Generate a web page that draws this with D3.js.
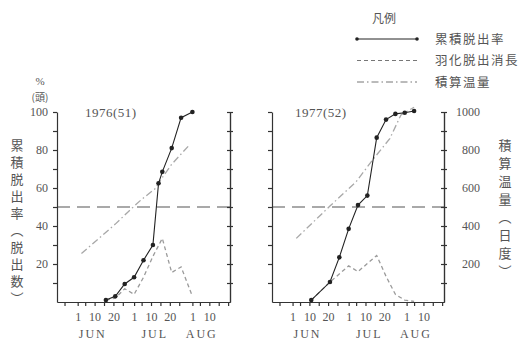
<!DOCTYPE html>
<html>
<head>
<meta charset="utf-8">
<script src="https://cdn.jsdelivr.net/npm/d3@7"></script>
<style>
  body { margin: 0; background: #fff; }
  svg text { fill: #555; }
  .num { font-family: "Liberation Serif", "DejaVu Serif", serif; font-size: 12px; }
  .jp { font-family: "Noto Sans CJK JP", sans-serif; font-size: 12.5px; }
  .axis path, .axis line { stroke: #333; stroke-width: 1.2; }
  .axis text { fill: #555; font-family: "Liberation Serif", "DejaVu Serif", serif; font-size: 12px; }
</style>
</head>
<body>
<div id="chart"></div>
<script>
// 1976 (昭和51年)
var cumDates1976 = ["06-16","06-21","06-26","07-01","07-06","07-11","07-14","07-16","07-21","07-26","08-01"];
var cumRate1976  = [1, 3, 9.5, 13, 22, 30, 62.5, 68.5, 81, 97, 100];
var emDates1976  = ["06-16","06-21","06-26","07-01","07-06","07-11","07-16","07-21","07-26","08-01"];
var emerge1976   = [1, 2, 7, 4, 13, 24, 33.5, 15.5, 18.5, 3];
var tempDates1976 = ["06-03","06-21","06-30","07-05","07-12","07-16","07-21","07-30"];
var tempSum1976   = [255, 410, 495, 540, 595, 655, 725, 822];

// 1977 (昭和52年)
var cumDates1977 = ["06-11","06-21","06-26","07-01","07-06","07-11","07-16","07-21","07-26","07-31","08-05"];
var cumRate1977  = [1, 10.5, 23.5, 38.5, 51, 56, 86.5, 96, 99, 99.6, 100.5];
var emDates1977  = ["06-11","06-21","07-01","07-06","07-16","07-21","07-26","07-31","08-05"];
var emerge1977   = [1, 10.5, 19, 16, 24.5, 13.5, 4, 1, 0.3];
var tempDates1977 = ["06-03","06-21","07-05","07-14","07-23","07-29","08-05"];
var tempSum1977   = [335, 505, 633, 750, 860, 985, 1025];

// axis labels
var dayTicks = ["05-25","06-01","06-05","06-10","06-15","06-20","06-25","07-01","07-05","07-10",
                "07-15","07-20","07-25","08-01","08-05","08-10","08-15","08-20"];
var dayLabels = ["06-01","06-10","06-20","07-01","07-10","07-20","08-01","08-10"];
var monthNames = ["JUN","JUL","AUG"];
var monthAt = ["06-09","07-12","08-06"];
var rateTicks = [10,20,30,40,50,60,70,80,90,100];
var tempTicks = [100,200,300,400,500,600,700,800,900,1000];
var legendNames = ["累積脱出率","羽化脱出消長","積算温量"];
var leftTitle = "累積脱出率（脱出数）";
var rightTitle = "積算温量（日度）";

var parseDay = d3.timeParse("%Y-%m-%d");
function day(s) { return parseDay("2000-" + s); }

var W = 521, H = 342;
var plotTop = 112, plotBottom = 302;

var svg = d3.select("#chart").append("svg")
  .attr("width", W).attr("height", H);

var yRate = d3.scaleLinear().domain([0, 100]).range([plotBottom, plotTop]);
var yTemp = d3.scaleLinear().domain([0, 1000]).range([plotBottom, plotTop]);

var panels = [
  { title: "1976(51)", left: 57, right: 230, titleX: 85,
    cd: cumDates1976, cv: cumRate1976, ed: emDates1976, ev: emerge1976, td: tempDates1976, tv: tempSum1976 },
  { title: "1977(52)", left: 272, right: 444, titleX: 295,
    cd: cumDates1977, cv: cumRate1977, ed: emDates1977, ev: emerge1977, td: tempDates1977, tv: tempSum1977 }
];

var styles = {
  cum:  { stroke: "#222", dash: null, width: 1.1 },
  em:   { stroke: "#9a9a9a", dash: "4,3", width: 1.3 },
  temp: { stroke: "#a8a8a8", dash: "7,3,1.5,3", width: 1.3 }
};

panels.forEach(function(p, pi) {
  var x = d3.scaleTime().domain([day("05-21"), day("08-21")]).range([p.left, p.right]);

  // 50% line
  svg.append("line")
    .attr("x1", p.left).attr("x2", p.right)
    .attr("y1", yRate(50)).attr("y2", yRate(50))
    .attr("stroke", "#555").attr("stroke-width", 1.1)
    .attr("stroke-dasharray", "13,7");

  // x axis
  svg.append("g").attr("class", "axis")
    .attr("transform", "translate(0," + plotBottom + ")")
    .call(d3.axisBottom(x)
      .tickValues(dayTicks.map(day))
      .tickSize(4).tickSizeOuter(0)
      .tickPadding(6)
      .tickFormat(function(d) {
        var s = d3.timeFormat("%m-%d")(d);
        return dayLabels.indexOf(s) >= 0 ? String(d.getDate()) : "";
      }));

  svg.selectAll(null).data(monthNames).enter().append("text")
    .attr("class", "num")
    .attr("x", function(d, i) { return x(day(monthAt[i])); })
    .attr("y", 338)
    .attr("text-anchor", "middle")
    .style("letter-spacing", "2px")
    .text(function(d) { return d; });

  // left axis
  svg.append("g").attr("class", "axis")
    .attr("transform", "translate(" + p.left + ",0)")
    .call(d3.axisLeft(yRate).tickValues(rateTicks).tickSize(4).tickSizeOuter(0)
      .tickPadding(5)
      .tickFormat(function(d) { return (pi === 0 && d % 20 === 0) ? d : ""; }));

  // right axis
  svg.append("g").attr("class", "axis")
    .attr("transform", "translate(" + p.right + ",0)")
    .call(d3.axisLeft(yTemp).tickValues(tempTicks).tickSize(3).tickSizeOuter(0).tickFormat(""));
  var ra = svg.append("g").attr("class", "axis")
    .attr("transform", "translate(" + p.right + ",0)")
    .call(d3.axisRight(yTemp).tickValues(tempTicks).tickSize(3).tickSizeOuter(0)
      .tickFormat(function(d) { return (pi === 1 && d % 200 === 0) ? d : ""; }));
  ra.selectAll("text").attr("text-anchor", "end").attr("x", 36);

  // title
  svg.append("text").attr("class", "num")
    .attr("x", p.titleX).attr("y", 117)
    .style("font-size", "13px").style("letter-spacing", "0.5px")
    .text(p.title);

  // series
  var tempLine = d3.line()
    .x(function(d, i) { return x(day(p.td[i])); })
    .y(function(d) { return yTemp(d); });
  svg.append("path").datum(p.tv)
    .attr("d", tempLine).attr("fill", "none")
    .attr("stroke", styles.temp.stroke).attr("stroke-width", styles.temp.width)
    .attr("stroke-dasharray", styles.temp.dash);

  var emLine = d3.line()
    .x(function(d, i) { return x(day(p.ed[i])); })
    .y(function(d) { return yRate(d); });
  svg.append("path").datum(p.ev)
    .attr("d", emLine).attr("fill", "none")
    .attr("stroke", styles.em.stroke).attr("stroke-width", styles.em.width)
    .attr("stroke-dasharray", styles.em.dash);

  var cumLine = d3.line()
    .x(function(d, i) { return x(day(p.cd[i])); })
    .y(function(d) { return yRate(d); });
  svg.append("path").datum(p.cv)
    .attr("d", cumLine).attr("fill", "none")
    .attr("stroke", styles.cum.stroke).attr("stroke-width", styles.cum.width);

  svg.selectAll(null).data(p.cv).enter().append("circle")
    .attr("cx", function(d, i) { return x(day(p.cd[i])); })
    .attr("cy", function(d) { return yRate(d); })
    .attr("r", 2.3)
    .attr("fill", "#222");
});

// y axis unit
svg.append("text").attr("class", "num").attr("x", 40).attr("y", 85)
  .attr("text-anchor", "middle").style("font-size", "11px").text("%");
svg.append("text").attr("class", "jp").attr("x", 40).attr("y", 101)
  .attr("text-anchor", "middle").style("font-size", "10px").text("(頭)");

// vertical titles
svg.append("text").attr("class", "jp")
  .attr("x", 17).attr("y", 139)
  .style("writing-mode", "vertical-rl")
  .style("font-size", "13px").style("letter-spacing", "4px")
  .text(leftTitle);

svg.append("text").attr("class", "jp")
  .attr("x", 505).attr("y", 139)
  .style("writing-mode", "vertical-rl")
  .style("font-size", "13px").style("letter-spacing", "5px")
  .text(rightTitle);

// legend
svg.append("text").attr("class", "jp").attr("x", 384).attr("y", 23)
  .attr("text-anchor", "middle").style("font-size", "12px").text("凡例");

var legendKeys = ["cum", "em", "temp"];
legendNames.forEach(function(name, i) {
  var ly = 39 + i * 21.5;
  var st = styles[legendKeys[i]];
  svg.append("line")
    .attr("x1", 357).attr("x2", 417).attr("y1", ly).attr("y2", ly)
    .attr("stroke", i === 0 ? st.stroke : "#777").attr("stroke-width", 1)
    .attr("stroke-dasharray", st.dash);
  if (i === 0) {
    svg.selectAll(null).data([357, 417]).enter().append("circle")
      .attr("cx", function(d) { return d; }).attr("cy", ly).attr("r", 1.8).attr("fill", "#222");
  }
  svg.append("text").attr("class", "jp")
    .attr("x", 435).attr("y", ly + 4.5)
    .style("font-size", "12.5px").style("letter-spacing", "1.5px")
    .text(name);
});
</script>
</body>
</html>
